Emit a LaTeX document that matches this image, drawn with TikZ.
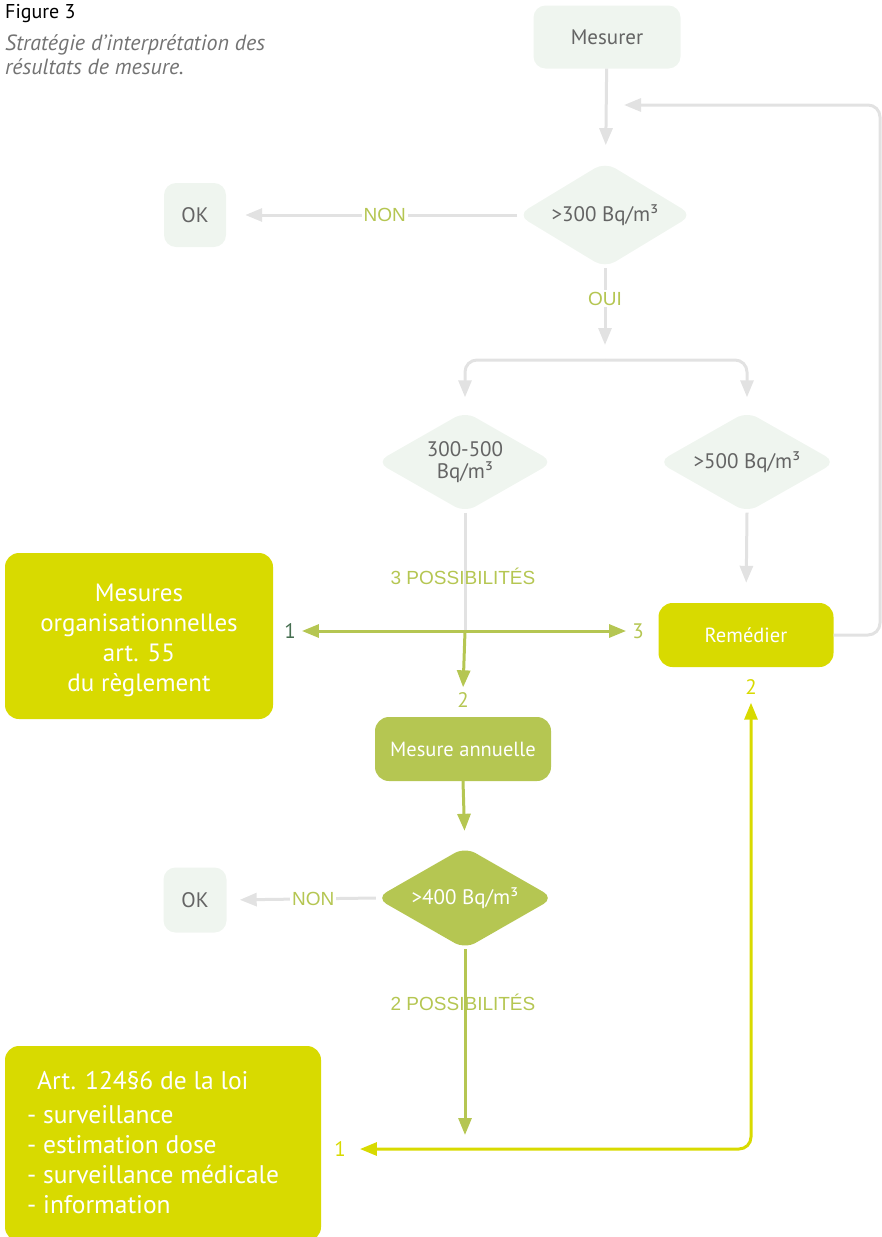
\documentclass[tikz,border=0pt]{standalone}
\usepackage{fontspec}
\setmainfont{PT Sans}
\newfontfamily\lblfont{Liberation Sans}
\usetikzlibrary{arrows.meta,shapes.geometric}

\definecolor{boxgray}{RGB}{239,245,239}
\definecolor{linegray}{RGB}{226,226,226}
\definecolor{txtgray}{RGB}{100,100,100}
\definecolor{capgray}{RGB}{115,115,115}
\definecolor{leaf}{RGB}{181,198,82}
\definecolor{lemon}{RGB}{216,218,0}
\definecolor{moss}{RGB}{70,110,80}

\tikzset{
  lightbox/.style={rectangle, rounded corners=12pt, fill=boxgray, text=txtgray,
    font=\fontsize{21}{23}\selectfont, inner sep=0pt},
  lemonbox/.style={rectangle, rounded corners=14pt, fill=lemon, text=white, inner sep=0pt},
  leafbox/.style={rectangle, rounded corners=14pt, fill=leaf, text=white,
    font=\fontsize{20.5}{22}\selectfont, inner sep=0pt},
  lightdiam/.style={diamond, aspect=1.75, rounded corners=12pt, fill=boxgray, text=txtgray,
    font=\fontsize{21}{22}\selectfont, inner sep=0pt, align=center},
  leafdiam/.style={lightdiam, fill=leaf, text=white},
  tip/.style={-{Triangle[width=13pt,length=17pt]}},
  grayline/.style={draw=linegray, line width=3pt},
  leafline/.style={draw=leaf, line width=3pt},
  lemonline/.style={draw=lemon, line width=3pt},
  lbl/.style={font=\lblfont\fontsize{19}{21}\selectfont, text=leaf, inner sep=2pt},
  numlbl/.style={font=\fontsize{21}{23}\selectfont, inner sep=2pt}
}

\begin{document}
\begin{tikzpicture}[x=1pt,y=-1pt]
  \useasboundingbox (0,0) rectangle (881,1237);

  % titre
  \node[anchor=base west, inner sep=0pt, font=\fontsize{20}{22}\selectfont] (fig) at (5,18) {Figure 3};
  \node[anchor=north west, inner sep=0pt, align=left, text=capgray,
        font=\fontsize{22}{24}\selectfont\itshape] (cap) at (5,34)
        {Stratégie d’interprétation des\\résultats de mesure.};

  % noeuds
  \node[lightbox, minimum width=147pt, minimum height=63pt] (mesurer) at (607,37) {Mesurer};
  \node[lightdiam, minimum width=175pt, minimum height=106pt] (d300) at (605,215) {>300 Bq/m³};
  \node[lightbox, minimum width=62pt, minimum height=64pt] (ok1) at (195,215) {OK};
  \node[lightdiam, minimum width=177pt, minimum height=101pt] (d300500) at (465,462) {300-500\\Bq/m³};
  \node[lightdiam, minimum width=178pt, minimum height=101pt] (d500) at (747,462) {>500 Bq/m³};
  \node[lemonbox, minimum width=175pt, minimum height=64pt,
        font=\fontsize{20.5}{22}\selectfont] (remedier) at (746,635) {Remédier};
  \node[lemonbox, minimum width=268pt, minimum height=166pt, align=center,
        font=\fontsize{25}{30}\selectfont] (orga) at (139,636) {};
  \node[text=white, align=center, inner sep=0pt,
        font=\fontsize{25}{30}\selectfont] (orgatxt) at (139,640)
        {Mesures\\organisationnelles\\art. 55\\du règlement};
  \node[leafbox, minimum width=176pt, minimum height=64pt] (annuelle) at (463,749) {Mesure annuelle};
  \node[leafdiam, minimum width=178pt, minimum height=102pt] (d400) at (465,898) {>400 Bq/m³};
  \node[lightbox, minimum width=63pt, minimum height=65pt] (ok2) at (195,900) {OK};
  \node[lemonbox, minimum width=316pt, minimum height=195pt] (art) at (163,1143.5) {};
  \node[anchor=north west, inner sep=0pt, text=white, align=left,
        font=\fontsize{25.5}{30}\selectfont] (arttxt) at (27,1071)
        {\hspace*{10pt}Art. 124§6 de la loi\\[4pt]- surveillance\\- estimation dose\\- surveillance médicale\\- information};

  \coordinate (fb) at (624,105);
  \coordinate (loopc) at (880,105);
  \coordinate (split) at (605,360);
  \coordinate (cross) at (465,631);
  \coordinate (bot) at (465,1135);

  \node[numlbl, text=moss] (un) at (290,631) {1};
  \node[numlbl, text=leaf] (trois) at (638,631) {3};
  \node[numlbl, text=leaf] (deux) at (463,700) {2};
  \node[numlbl, text=lemon] (deuxb) at (751,687) {2};
  \node[numlbl, text=lemon] (unb) at (340,1149) {1};

  % liaisons grises
  \draw[grayline, tip, shorten >=17pt] (mesurer) -- (d300);
  \draw[grayline, tip, rounded corners=12pt] (remedier.east) -| (loopc) -- (fb);
  \draw[grayline, tip, shorten >=19pt] (d300.west) -- (ok1.east)
    node[lbl, fill=white, pos=0.455] (non1) {NON};
  \draw[grayline, tip, shorten >=15pt] (d300.south) -- (split)
    node[lbl, fill=white, pos=0.33] (oui) {OUI};
  \draw[grayline, tip, rounded corners=12pt, shorten >=14pt] (split) -| (d300500.north);
  \draw[grayline, tip, rounded corners=12pt, shorten >=14pt] (split) -| (d500.north);
  \draw[grayline] (d300500.south) -- (cross);
  \draw[grayline, tip, shorten >=20pt] (d500.south) -- (remedier.north);
  \node[lbl] (poss3) at (463,576) {3 POSSIBILITÉS};
  \draw[grayline, tip, shorten >=13pt] (d400.west) -- (ok2.east)
    node[lbl, fill=white, pos=0.42] (non2) {NON};

  % liaisons vertes
  \draw[leafline, {Triangle[width=13pt,length=17pt]}-{Triangle[width=13pt,length=17pt]},
        shorten <=4pt, shorten >=4pt] (un.east) -- (trois.west);
  \draw[leafline, tip, shorten >=3pt] (cross) -- (deux.north);
  \draw[leafline, tip, shorten >=16pt] (annuelle.south) -- (d400.north);
  \draw[leafline, tip] (d400.south) -- (bot);
  \node[lbl] (poss2) at (463,1002) {2 POSSIBILITÉS};

  % liaison jaune
  \draw[lemonline, {Triangle[width=13pt,length=17pt]}-{Triangle[width=13pt,length=17pt]},
        rounded corners=12pt, shorten <=12pt, shorten >=6pt] (unb.east) -| (deuxb.south);
\end{tikzpicture}
\end{document}
